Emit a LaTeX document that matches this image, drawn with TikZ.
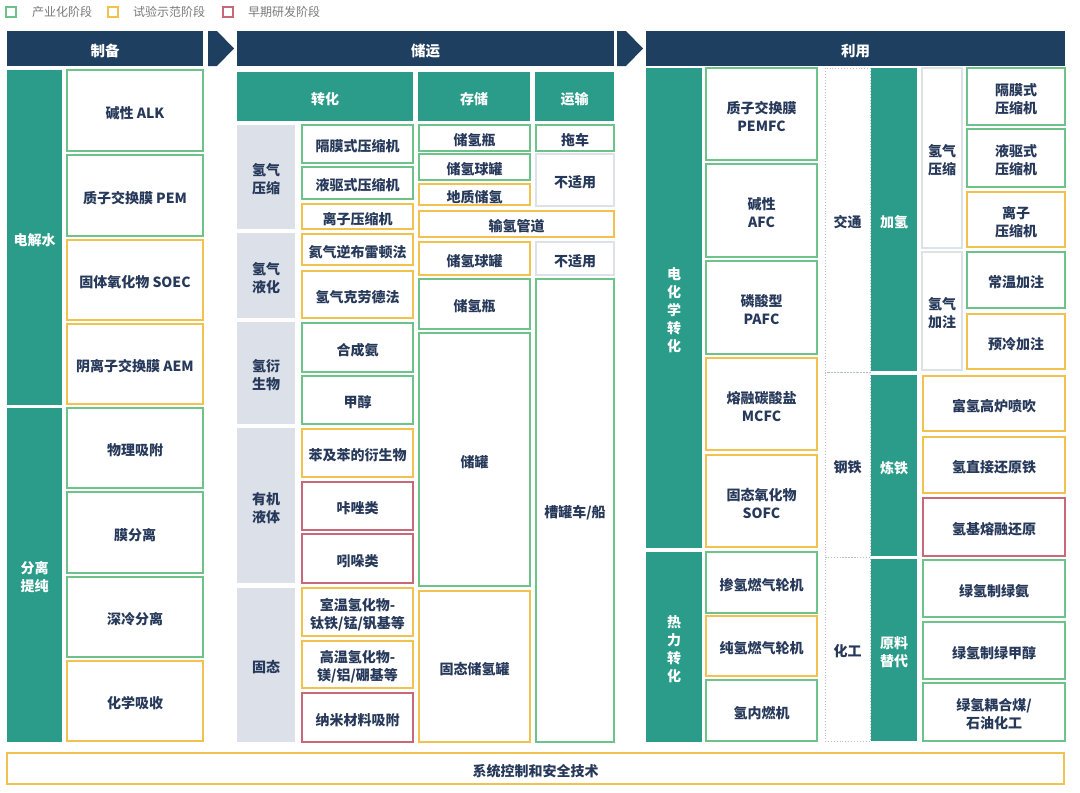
\documentclass[tikz,border=0pt]{standalone}
\usepackage{fontspec}
\setmainfont{Noto Sans CJK SC}
\definecolor{navy}{HTML}{1F3F60}
\definecolor{cteal}{HTML}{2A9C89}
\definecolor{cgreen}{HTML}{6DC389}
\definecolor{cyellow}{HTML}{F2C24F}
\definecolor{cred}{HTML}{C86878}
\definecolor{graybg}{HTML}{DCE1E9}
\definecolor{grayline}{HTML}{DDE1E8}
\definecolor{dotgray}{HTML}{B8BEC6}
\definecolor{txt}{HTML}{27395A}
\definecolor{lgtxt}{HTML}{7A7A7A}
\tikzset{
  base/.style={inner sep=0pt, outer sep=0pt, align=center, font=\bfseries\fontsize{14}{18}\selectfont, text=txt},
  gbox/.style={base, draw=cgreen, line width=1.6pt, fill=white},
  ybox/.style={base, draw=cyellow, line width=1.6pt, fill=white},
  rbox/.style={base, draw=cred, line width=1.6pt, fill=white},
  nbox/.style={base, draw=grayline, line width=1.6pt, fill=white},
  cat/.style={base, fill=graybg},
  tealbox/.style={base, fill=cteal, text=white},
  hdr/.style={base, fill=navy, text=white, font=\bfseries\fontsize{14.5}{18}\selectfont},
  dotbox/.style={base, draw=dotgray, dotted, line width=0.9pt},
  lbl/.style={draw=none, fill=none, minimum width=0pt, minimum height=0pt},
  lgsq/.style={inner sep=0pt, minimum size=10pt, line width=1.3pt, fill=white},
  lgtext/.style={inner sep=0pt, anchor=west, text=lgtxt, font=\fontsize{12}{14}\selectfont},
  chevron/.style={fill=navy}
}
\newcommand\bx[7]{%
  \pgfmathsetmacro\bxw{#4-#2}\pgfmathsetmacro\bxh{#5-#3}%
  \node[#6, minimum width=\bxw pt, minimum height=\bxh pt] (#1) at ({(#2+#4)/2},{(#3+#5)/2}) {};
  \node[#6, lbl] (#1t) at ([yshift=-2.5pt]#1.center) {#7};}
\begin{document}
\begin{tikzpicture}[x=1pt,y=-1pt]
\useasboundingbox[fill=white] (0,0) rectangle (1080,793);
% legend
\node[lgsq, draw=cgreen] (lg1) at (11,12) {};
\node[lgtext] (lt1) at (32,12) {产业化阶段};
\node[lgsq, draw=cyellow] (lg2) at (113,12) {};
\node[lgtext] (lt2) at (133,12) {试验示范阶段};
\node[lgsq, draw=cred] (lg3) at (228,12) {};
\node[lgtext] (lt3) at (248,12) {早期研发阶段};
% headers
\bx{h1}{7}{31}{203}{66}{hdr}{制备}
\bx{h2}{237}{31}{614}{66}{hdr}{储运}
\bx{h3}{646}{31}{1065}{66}{hdr}{利用}
\fill[chevron] (208,31)--(217,31)--(234,48.5)--(217,66)--(208,66)--cycle;
\fill[chevron] (617,31)--(626,31)--(643,48.5)--(626,66)--(617,66)--cycle;
% column 1
\bx{a1}{7}{70}{62}{405}{tealbox}{电解水}
\bx{a2}{7}{408}{62}{742}{tealbox}{分离\\提纯}
\bx{a3}{67}{70}{203}{151}{gbox}{碱性 ALK}
\bx{a4}{67}{155}{203}{236}{gbox}{质子交换膜 PEM}
\bx{a5}{67}{240}{203}{320}{ybox}{固体氧化物 SOEC}
\bx{a6}{67}{324}{203}{404}{ybox}{阴离子交换膜 AEM}
\bx{a7}{67}{408}{203}{488}{gbox}{物理吸附}
\bx{a8}{67}{492}{203}{573}{gbox}{膜分离}
\bx{a9}{67}{577}{203}{657}{gbox}{深冷分离}
\bx{a10}{67}{661}{203}{741}{ybox}{化学吸收}
% column 2 subheaders
\bx{s1}{237}{72}{413}{121}{tealbox}{转化}
\bx{s2}{418}{72}{530}{121}{tealbox}{存储}
\bx{s3}{535}{72}{614}{121}{tealbox}{运输}
% categories
\bx{k1}{237}{125}{295}{229}{cat}{氢气\\压缩}
\bx{k2}{237}{233}{295}{318}{cat}{氢气\\液化}
\bx{k3}{237}{322}{295}{424}{cat}{氢衍\\生物}
\bx{k4}{237}{428}{295}{583}{cat}{有机\\液体}
\bx{k5}{237}{588}{295}{742}{cat}{固态}
% conversion
\bx{v1}{302}{125}{413}{163}{gbox}{隔膜式压缩机}
\bx{v2}{302}{167}{413}{199}{gbox}{液驱式压缩机}
\bx{v3}{302}{204}{413}{229}{ybox}{离子压缩机}
\bx{v4}{302}{234}{413}{265}{ybox}{氦气逆布雷顿法}
\bx{v5}{302}{271}{413}{318}{ybox}{氢气克劳德法}
\bx{v6}{302}{323}{413}{372}{gbox}{合成氨}
\bx{v7}{302}{376}{413}{424}{gbox}{甲醇}
\bx{v8}{302}{429}{413}{477}{ybox}{苯及苯的衍生物}
\bx{v9}{302}{482}{413}{530}{rbox}{咔唑类}
\bx{v10}{302}{534}{413}{583}{rbox}{吲哚类}
\bx{v11}{302}{588}{413}{636}{ybox}{室温氢化物-\\钛铁/锰/钒基等}
\bx{v12}{302}{641}{413}{688}{ybox}{高温氢化物-\\镁/铝/硼基等}
\bx{v13}{302}{693}{413}{742}{rbox}{纳米材料吸附}
% storage
\bx{t1}{419}{125}{530}{151}{gbox}{储氢瓶}
\bx{t2}{419}{154}{530}{180}{gbox}{储氢球罐}
\bx{t3}{419}{184}{530}{205}{ybox}{地质储氢}
\bx{t4}{419}{211}{614}{237}{ybox}{输氢管道}
\bx{t5}{419}{242}{530}{275}{ybox}{储氢球罐}
\bx{t6}{419}{279}{530}{329}{gbox}{储氢瓶}
\bx{t7}{419}{333}{530}{586}{gbox}{储罐}
\bx{t8}{419}{591}{530}{742}{ybox}{固态储氢罐}
% transport
\bx{u1}{536}{125}{614}{151}{gbox}{拖车}
\bx{u2}{536}{154}{614}{206}{nbox}{不适用}
\bx{u3}{536}{242}{614}{275}{nbox}{不适用}
\bx{u4}{536}{279}{614}{742}{gbox}{槽罐车/船}
% column 3
\bx{e1}{646}{68}{702}{548}{tealbox}{电\\化\\学\\转\\化}
\bx{e2}{646}{552}{702}{742}{tealbox}{热\\力\\转\\化}
\bx{f1}{706}{68}{817}{160}{gbox}{质子交换膜\\PEMFC}
\bx{f2}{706}{164}{817}{257}{gbox}{碱性\\AFC}
\bx{f3}{706}{261}{817}{354}{gbox}{磷酸型\\PAFC}
\bx{f4}{706}{358}{817}{450}{ybox}{熔融碳酸盐\\MCFC}
\bx{f5}{706}{455}{817}{547}{ybox}{固态氧化物\\SOFC}
\bx{f6}{706}{552}{817}{613}{gbox}{掺氢燃气轮机}
\bx{f7}{706}{616}{817}{676}{ybox}{纯氢燃气轮机}
\bx{f8}{706}{680}{817}{741}{gbox}{氢内燃机}
% sectors
\bx{g1}{825}{68}{870}{372}{dotbox}{交通}
\bx{g2}{825}{372}{870}{557}{dotbox}{钢铁}
\bx{g3}{825}{557}{870}{741}{dotbox}{化工}
\bx{p1}{871}{68}{917}{371}{tealbox}{加氢}
\bx{p2}{871}{375}{917}{556}{tealbox}{炼铁}
\bx{p3}{871}{559}{917}{741}{tealbox}{原料\\替代}
\bx{q1}{922}{68}{962}{248}{nbox}{氢气\\压缩}
\bx{q2}{922}{252}{962}{370}{nbox}{氢气\\加注}
\bx{r1}{967}{68}{1065}{125}{gbox}{隔膜式\\压缩机}
\bx{r2}{967}{129}{1065}{187}{gbox}{液驱式\\压缩机}
\bx{r3}{967}{192}{1065}{247}{ybox}{离子\\压缩机}
\bx{r4}{967}{252}{1065}{308}{gbox}{常温加注}
\bx{r5}{967}{314}{1065}{369}{ybox}{预冷加注}
\bx{w1}{923}{376}{1065}{431}{ybox}{富氢高炉喷吹}
\bx{w2}{923}{437}{1065}{493}{ybox}{氢直接还原铁}
\bx{w3}{923}{498}{1065}{556}{rbox}{氢基熔融还原}
\bx{w4}{923}{560}{1065}{617}{gbox}{绿氢制绿氨}
\bx{w5}{923}{622}{1065}{679}{gbox}{绿氢制绿甲醇}
\bx{w6}{923}{683}{1065}{741}{gbox}{绿氢耦合煤/\\石油化工}
% bottom
\bx{z1}{7}{753}{1064}{784}{ybox}{系统控制和安全技术}
\end{tikzpicture}
\end{document}
